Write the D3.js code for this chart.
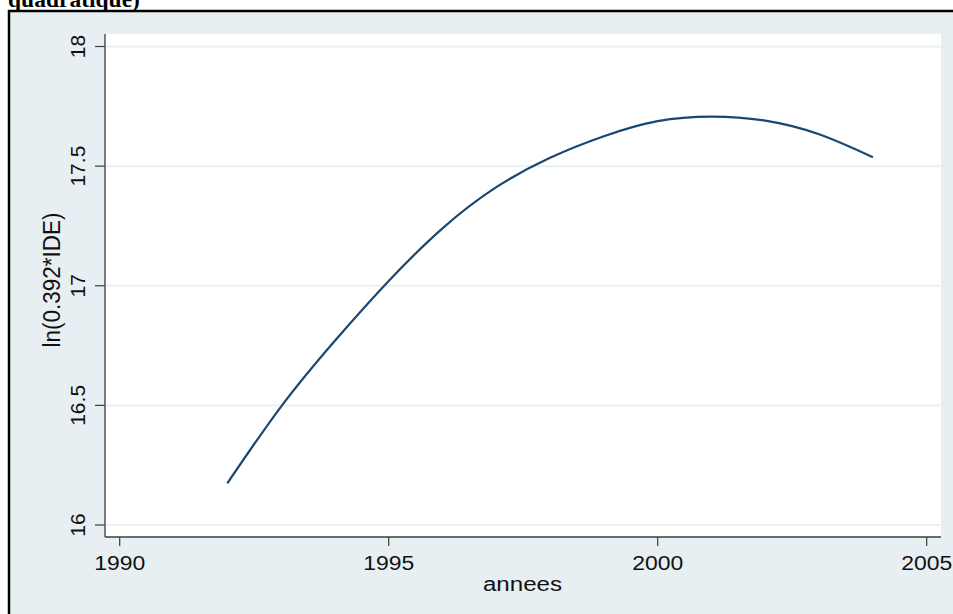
<!DOCTYPE html>
<html>
<head>
<meta charset="utf-8">
<script src="https://cdn.jsdelivr.net/npm/d3@7"></script>
<style>
  html, body { margin: 0; padding: 0; background: #ffffff; }
  svg { display: block; }
</style>
</head>
<body>
<script>
// ---- data ----
const years = [1992, 1993, 1994, 1995, 1996, 1997, 1998, 1999, 2000, 2001, 2002, 2003, 2004];
const lnIDE = [16.174, 16.495, 16.770, 17.020, 17.240, 17.412, 17.535, 17.625, 17.688, 17.707, 17.690, 17.633, 17.537];
const xTicks = [1990, 1995, 2000, 2005];
const yTicks = [16, 16.5, 17, 17.5, 18];
const yTickLabels = ["16", "16.5", "17", "17.5", "18"];
const titleText = "quadratique)";
const xTitle = "annees";
const yTitle = "ln(0.392*IDE)";

const W = 953, H = 614;
const bg = "#e8eff2";
const plot = { left: 105, right: 941, top: 34, bottom: 537 };

const svg = d3.select("body").append("svg").attr("width", W).attr("height", H);

// outer graph region
svg.append("rect").attr("x", 0).attr("y", 0).attr("width", W).attr("height", H).attr("fill", "#ffffff");
svg.append("rect").attr("x", 9).attr("y", 11).attr("width", W).attr("height", H).attr("fill", bg);

// title, cut off at the top as in the reference
svg.append("text").attr("x", 8).attr("y", 7)
  .attr("font-family", "'Liberation Serif', 'Times New Roman', serif")
  .attr("font-weight", "bold").attr("font-size", 23.5).attr("fill", "#000")
  .text(titleText);

svg.append("path").attr("d", `M9,${H} L9,11 L${W},11`).attr("fill", "none").attr("stroke", "#000").attr("stroke-width", 2.5);

// scales
const x = d3.scaleLinear().domain([1990, 2005]).range([119.7, 926.7]);
const y = d3.scaleLinear().domain([16, 18]).range([525, 46.5]);

// plot region
svg.append("rect").attr("x", plot.left).attr("y", plot.top)
  .attr("width", plot.right - plot.left).attr("height", plot.bottom - plot.top)
  .attr("fill", "#ffffff");

// grid lines
svg.append("g").selectAll("line").data(yTicks).join("line")
  .attr("x1", plot.left).attr("x2", plot.right)
  .attr("y1", d => y(d)).attr("y2", d => y(d))
  .attr("stroke", "#eaf2f3").attr("stroke-width", 2);

// curve
const line = d3.line().x((d, i) => x(years[i])).y(d => y(d)).curve(d3.curveNatural);
svg.append("path").datum(lnIDE).attr("d", line)
  .attr("fill", "none").attr("stroke", "#1a476f").attr("stroke-width", 2.2)
  .attr("stroke-linejoin", "round");

const axisColor = "#3c3c3c";
// axes lines
svg.append("line").attr("x1", plot.left).attr("x2", plot.left).attr("y1", plot.top).attr("y2", plot.bottom)
  .attr("stroke", axisColor).attr("stroke-width", 1.3);
svg.append("line").attr("x1", plot.left).attr("x2", plot.right).attr("y1", plot.bottom).attr("y2", plot.bottom)
  .attr("stroke", axisColor).attr("stroke-width", 1.3);

// y ticks
svg.append("g").selectAll("line").data(yTicks).join("line")
  .attr("x1", plot.left - 10).attr("x2", plot.left)
  .attr("y1", d => y(d)).attr("y2", d => y(d))
  .attr("stroke", axisColor).attr("stroke-width", 1.2);
svg.append("g").selectAll("text").data(yTicks).join("text")
  .attr("transform", d => `translate(84.5,${y(d)}) rotate(-90)`)
  .attr("text-anchor", "middle")
  .attr("font-family", "'Liberation Sans', Arial, sans-serif")
  .attr("font-size", 21).attr("fill", "#111")
  .text((d, i) => yTickLabels[i]);

// x ticks
svg.append("g").selectAll("line").data(xTicks).join("line")
  .attr("x1", d => x(d)).attr("x2", d => x(d))
  .attr("y1", plot.bottom).attr("y2", plot.bottom + 9)
  .attr("stroke", axisColor).attr("stroke-width", 1.2);
svg.append("g").selectAll("text").data(xTicks).join("text")
  .attr("transform", d => `translate(${x(d)},570) scale(1.12,1)`)
  .attr("text-anchor", "middle")
  .attr("font-family", "'Liberation Sans', Arial, sans-serif")
  .attr("font-size", 20.5).attr("fill", "#111")
  .text(d => d);

// axis titles
svg.append("text")
  .attr("transform", `translate(522.5,590.5) scale(1.15,1)`)
  .attr("text-anchor", "middle")
  .attr("font-family", "'Liberation Sans', Arial, sans-serif")
  .attr("font-size", 21).attr("fill", "#111")
  .text(xTitle);
svg.append("text")
  .attr("transform", `translate(59.5,280) rotate(-90) scale(1,1.1)`)
  .attr("text-anchor", "middle")
  .attr("font-family", "'Liberation Sans', Arial, sans-serif")
  .attr("font-size", 22.5).attr("fill", "#111")
  .text(yTitle);
</script>
</body>
</html>
